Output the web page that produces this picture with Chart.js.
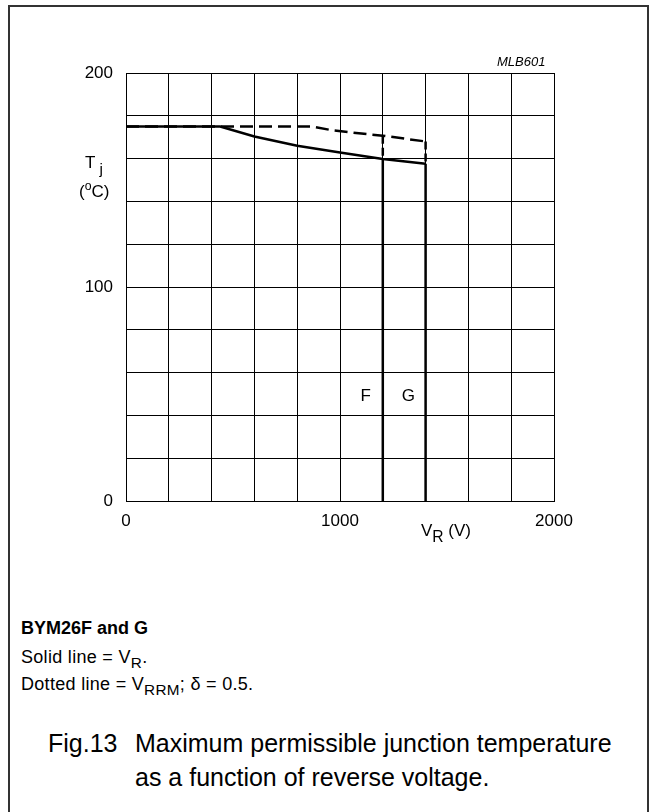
<!DOCTYPE html>
<html>
<head>
<meta charset="utf-8">
<script src="https://cdn.jsdelivr.net/npm/chart.js@4.4.1/dist/chart.umd.min.js"></script>
<style>
  body { margin: 0; background: #fff; font-family: "Liberation Sans", Arial, sans-serif; color: #000; }
  #page { position: relative; width: 653px; height: 812px; overflow: hidden; }
  #frame { position: absolute; left: 8px; top: 5px; width: 641px; height: 830px;
           border: 2px solid #333; box-sizing: border-box; }
  #chart { position: absolute; left: 0; top: 0; }
  .txt { position: absolute; white-space: nowrap; line-height: 1; }
  sub, sup { line-height: 0; }
  .note { font-size: 18px; letter-spacing: 0.3px; }
  .note sub { font-size: 85%; vertical-align: -5px; }
</style>
</head>
<body>
<div id="page">
  <div id="frame"></div>
  <canvas id="chart" width="653" height="560"></canvas>

  <div class="txt" style="left:497px; top:55px; font-size:13px; font-style:italic;">MLB601</div>
  <div class="txt" style="left:85px; top:154px; font-size:17px;">T<sub style="font-size:90%; margin-left:4px; vertical-align:-6px;">j</sub></div>
  <div class="txt" style="left:79px; top:183px; font-size:17px;">(<sup style="font-size:72%;">o</sup>C)</div>
  <div class="txt" style="left:421px; top:522px; font-size:17px;">V<sub style="font-size:92%; vertical-align:-6px;">R</sub>&nbsp;(V)</div>

  <div class="txt" style="left:21px; top:619px; font-size:18px; font-weight:bold;">BYM26F and G</div>
  <div class="txt note" style="left:21px; top:648px;">Solid line = V<sub>R</sub>.</div>
  <div class="txt note" style="left:21px; top:675px;">Dotted line = V<sub>RRM</sub>; &delta; = 0.5.</div>

  <div class="txt" style="left:48px; top:731px; font-size:25px;">Fig.13</div>
  <div class="txt" style="left:135px; top:731px; font-size:25px;">Maximum permissible junction temperature</div>
  <div class="txt" style="left:135px; top:765px; font-size:25px;">as a function of reverse voltage.</div>
</div>

<script>
// solid line: V_R
var vSolid = [0, 440, 600, 800, 1000, 1200, 1400];
var tSolid = [175, 175, 170.3, 166, 162.9, 159.8, 157.6];

// dashed line: V_RRM, delta = 0.5
var vDash = [0, 870, 960, 1100, 1200, 1400];
var tDash = [175, 175, 173.3, 171.7, 170.7, 168];

// device limits F and G
var limitNames = ['F', 'G'];
var limitV = [1200, 1400];
var limitTopSolid = [159.8, 157.6];
var limitTopDash = [170.7, 168];
var limitLabelV = [1120, 1320];
var limitLabelT = [49, 49];

var xTicks = [0, 1000, 2000];
var yTicks = [0, 100, 200];

function pts(xs, ys) {
    return xs.map(function (x, i) { return { x: x, y: ys[i] }; });
}

var datasets = [
    { data: pts(vSolid, tSolid) },
    { data: pts(vDash, tDash), borderDash: [13, 6] }
];
limitV.forEach(function (v, i) {
    datasets.push({ data: pts([v, v], [limitTopSolid[i], 0]) });
    datasets.push({ data: pts([v, v], [limitTopDash[i], limitTopSolid[i]]), borderDash: [8, 4] });
});
datasets.forEach(function (d) {
    d.borderColor = '#000';
    d.borderWidth = 2.5;
    d.pointRadius = 0;
    d.fill = false;
    d.tension = 0;
});

var labelPlugin = {
    id: 'limitLabels',
    afterDatasetsDraw: function (chart) {
        var ctx = chart.ctx;
        var xs = chart.scales.x, ys = chart.scales.y;
        ctx.save();
        ctx.font = '17px "Liberation Sans", Arial, sans-serif';
        ctx.fillStyle = '#000';
        ctx.textAlign = 'center';
        ctx.textBaseline = 'middle';
        limitNames.forEach(function (n, i) {
            ctx.fillText(n, xs.getPixelForValue(limitLabelV[i]), ys.getPixelForValue(limitLabelT[i]));
        });
        ctx.restore();
    }
};

var tickFont = { family: '"Liberation Sans", Arial, sans-serif', size: 17 };

new Chart(document.getElementById('chart'), {
    type: 'line',
    data: { datasets: datasets },
    options: {
        responsive: false,
        animation: false,
        events: [],
        layout: { padding: { left: 0, top: 73, right: 99, bottom: 19 } },
        plugins: { legend: { display: false }, tooltip: { enabled: false } },
        scales: {
            x: {
                type: 'linear', min: 0, max: 2000,
                afterFit: function (s) { s.height = 40; },
                grid: { color: '#000', lineWidth: 1, drawTicks: false },
                border: { color: '#000', width: 1 },
                ticks: {
                    stepSize: 200, padding: 10, color: '#000', font: tickFont, maxRotation: 0, autoSkip: false,
                    callback: function (v) { return xTicks.indexOf(v) >= 0 ? String(v) : ''; }
                }
            },
            y: {
                type: 'linear', min: 0, max: 200,
                afterFit: function (s) { s.width = 126; },
                grid: { color: '#000', lineWidth: 1, drawTicks: false },
                border: { color: '#000', width: 1 },
                ticks: {
                    stepSize: 20, padding: 13, color: '#000', font: tickFont, autoSkip: false,
                    callback: function (v) { return yTicks.indexOf(v) >= 0 ? String(v) : ''; }
                }
            }
        }
    },
    plugins: [labelPlugin]
});
</script>
</body>
</html>
